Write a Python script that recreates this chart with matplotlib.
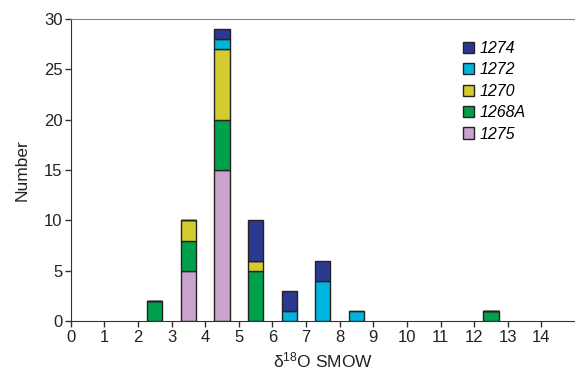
import numpy as np
import matplotlib
matplotlib.use('Agg')
import matplotlib.pyplot as plt

plt.rcParams['font.family'] = ['Liberation Sans', 'DejaVu Sans']
plt.rcParams['mathtext.default'] = 'regular'

# bin centres (delta 18O SMOW)
bins = [2.5, 3.5, 4.5, 5.5, 6.5, 7.5, 8.5, 12.5]
# counts per site, stacked bottom to top
n_1275 = [0, 5, 15, 0, 0, 0, 0, 0]
n_1268A = [2, 3, 5, 5, 0, 0, 0, 1]
n_1270 = [0, 2, 7, 1, 0, 0, 0, 0]
n_1272 = [0, 0, 1, 0, 1, 4, 1, 0]
n_1274 = [0, 0, 1, 4, 2, 2, 0, 0]

series = [('1275', n_1275, '#c9a3cc'),
          ('1268A', n_1268A, '#00a14b'),
          ('1270', n_1270, '#d4cb2e'),
          ('1272', n_1272, '#00b5dd'),
          ('1274', n_1274, '#2b3990')]

fig = plt.figure(figsize=(5.75, 3.81), dpi=100)
ax = fig.add_axes([0.123, 0.157, 0.877, 0.793])

bottom = np.zeros(len(bins))
handles = []
for name, vals, col in series:
    vals = np.array(vals, dtype=float)
    h = ax.bar(bins, vals, width=0.45, bottom=bottom, color=col,
               edgecolor='#222222', linewidth=1.0, label=name)
    handles.append(h)
    bottom += vals

ax.set_xlim(0, 15)
ax.set_ylim(0, 30)
ax.set_xticks(range(0, 15))
ax.set_yticks(range(0, 31, 5))
ax.tick_params(labelsize=12, direction='out', length=4, width=1, colors='#333333',
               labelcolor='#222222', pad=2)
ax.spines['right'].set_visible(False)
ax.spines['top'].set_color('#888888')
ax.spines['left'].set_color('#333333')
ax.spines['bottom'].set_color('#333333')

ax.set_xlabel('δ$^{18}$O SMOW', fontsize=12.5, color='#222222', labelpad=4)
ax.set_ylabel('Number', fontsize=12.5, color='#222222', labelpad=10)

leg = ax.legend(handles[::-1], [s[0] for s in series][::-1], loc='upper right',
                bbox_to_anchor=(0.93, 0.975), frameon=False, fontsize=11.5,
                handlelength=0.7, handleheight=0.7, handletextpad=0.3,
                labelspacing=0.4)
for t in leg.get_texts():
    t.set_fontstyle('italic')

fig.savefig('out.png', dpi=100)
